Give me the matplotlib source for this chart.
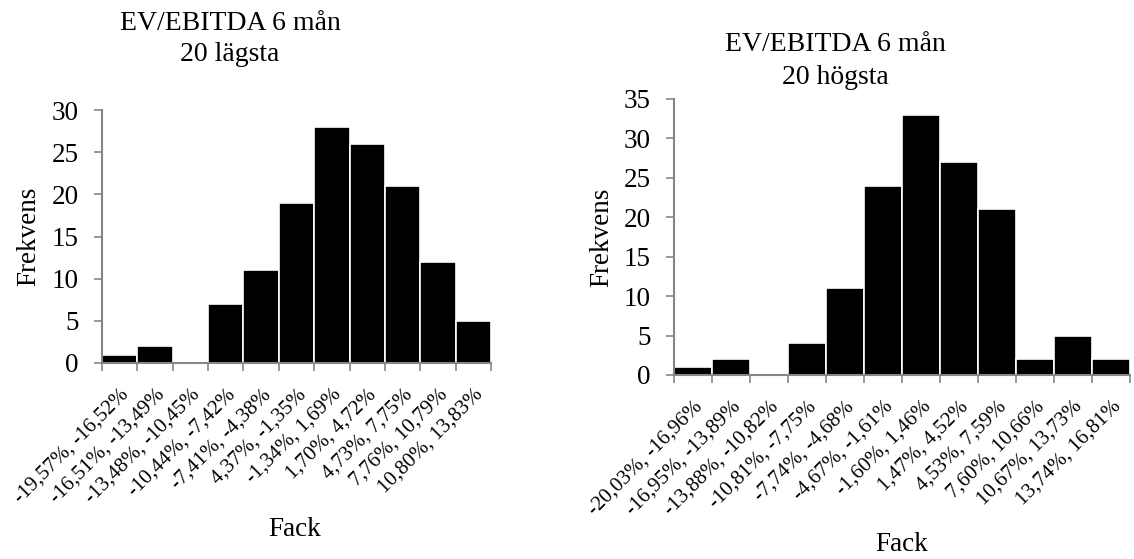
import matplotlib
matplotlib.use("Agg")
import matplotlib.pyplot as plt
import numpy as np

plt.rcParams['font.family'] = ['Liberation Serif', 'DejaVu Serif']

# Fördelning, 20 lägsta EV/EBITDA
low_bins = ["-19,57%, -16,52%", "-16,51%, -13,49%", "-13,48%, -10,45%",
            "-10,44%, -7,42%", "-7,41%, -4,38%", "4,37%, -1,35%",
            "-1,34%, 1,69%", "1,70%, 4,72%", "4,73%, 7,75%",
            "7,76%, 10,79%", "10,80%, 13,83%"]
low_freq = [1, 2, 0, 7, 11, 19, 28, 26, 21, 12, 5]

# Fördelning, 20 högsta EV/EBITDA
high_bins = ["-20,03%, -16,96%", "-16,95%, -13,89%", "-13,88%, -10,82%",
             "-10,81%, -7,75%", "-7,74%, -4,68%", "-4,67%, -1,61%",
             "-1,60%, 1,46%", "1,47%, 4,52%", "4,53%, 7,59%",
             "7,60%, 10,66%", "10,67%, 13,73%", "13,74%, 16,81%"]
high_freq = [1, 2, 0, 4, 11, 24, 33, 27, 21, 2, 5, 2]

GRAY = '#868686'
W, H = 1134, 559


def px_rect(x0, y0, x1, y1):
    """Pixelkoordinater (uppifrån) till figurbråk."""
    return [x0 / W, 1 - y1 / H, (x1 - x0) / W, (y1 - y0) / H]


def histogram(ax, labels, freq, ymax):
    n = len(freq)
    x = np.arange(n)
    ax.bar(x + 0.5, freq, width=1.0, color='black', edgecolor='white', linewidth=1.2)
    ax.set_xlim(0, n)
    ax.set_ylim(0, ymax)
    ax.set_yticks(np.arange(0, ymax + 1, 5))
    ax.set_xticks(np.arange(n + 1))
    ax.set_xticklabels([])
    ax.set_xticks(x + 0.5, minor=True)
    ax.set_xticklabels(labels, minor=True, rotation=45, ha='right',
                       rotation_mode='anchor', fontsize=15)
    ax.tick_params(axis='x', which='minor', length=0, pad=16)
    ax.tick_params(axis='x', which='major', length=6, width=1.2, color=GRAY)
    ax.tick_params(axis='y', length=6, width=1.2, color=GRAY, labelsize=19.5, pad=11)
    for side in ('top', 'right'):
        ax.spines[side].set_visible(False)
    for side in ('left', 'bottom'):
        ax.spines[side].set_color(GRAY)
        ax.spines[side].set_linewidth(1.5)
    ax.set_ylabel('Frekvens', fontsize=19.5)
    ax.set_xlabel('Fack', fontsize=19.5)


fig = plt.figure(figsize=(W / 100, H / 100), dpi=100)

ax1 = fig.add_axes(px_rect(102, 110, 491, 363))
histogram(ax1, low_bins, low_freq, 30)
ax1.yaxis.set_label_coords(-0.157, 0.5)
ax1.xaxis.set_label_coords(0.496, -0.61)
fig.text(230 / W, 1 - 39 / H, 'EV/EBITDA 6 mån\n20 lägsta', ha='center', va='center',
         fontsize=20, linespacing=1.36)

ax2 = fig.add_axes(px_rect(674, 99, 1130, 375))
histogram(ax2, high_bins, high_freq, 35)
ax2.yaxis.set_label_coords(-0.131, 0.5)
ax2.xaxis.set_label_coords(0.5, -0.57)
fig.text(835 / W, 1 - 61 / H, 'EV/EBITDA 6 mån\n20 högsta', ha='center', va='center',
         fontsize=20, linespacing=1.45)

fig.savefig('out.png', dpi=100, facecolor='white')
